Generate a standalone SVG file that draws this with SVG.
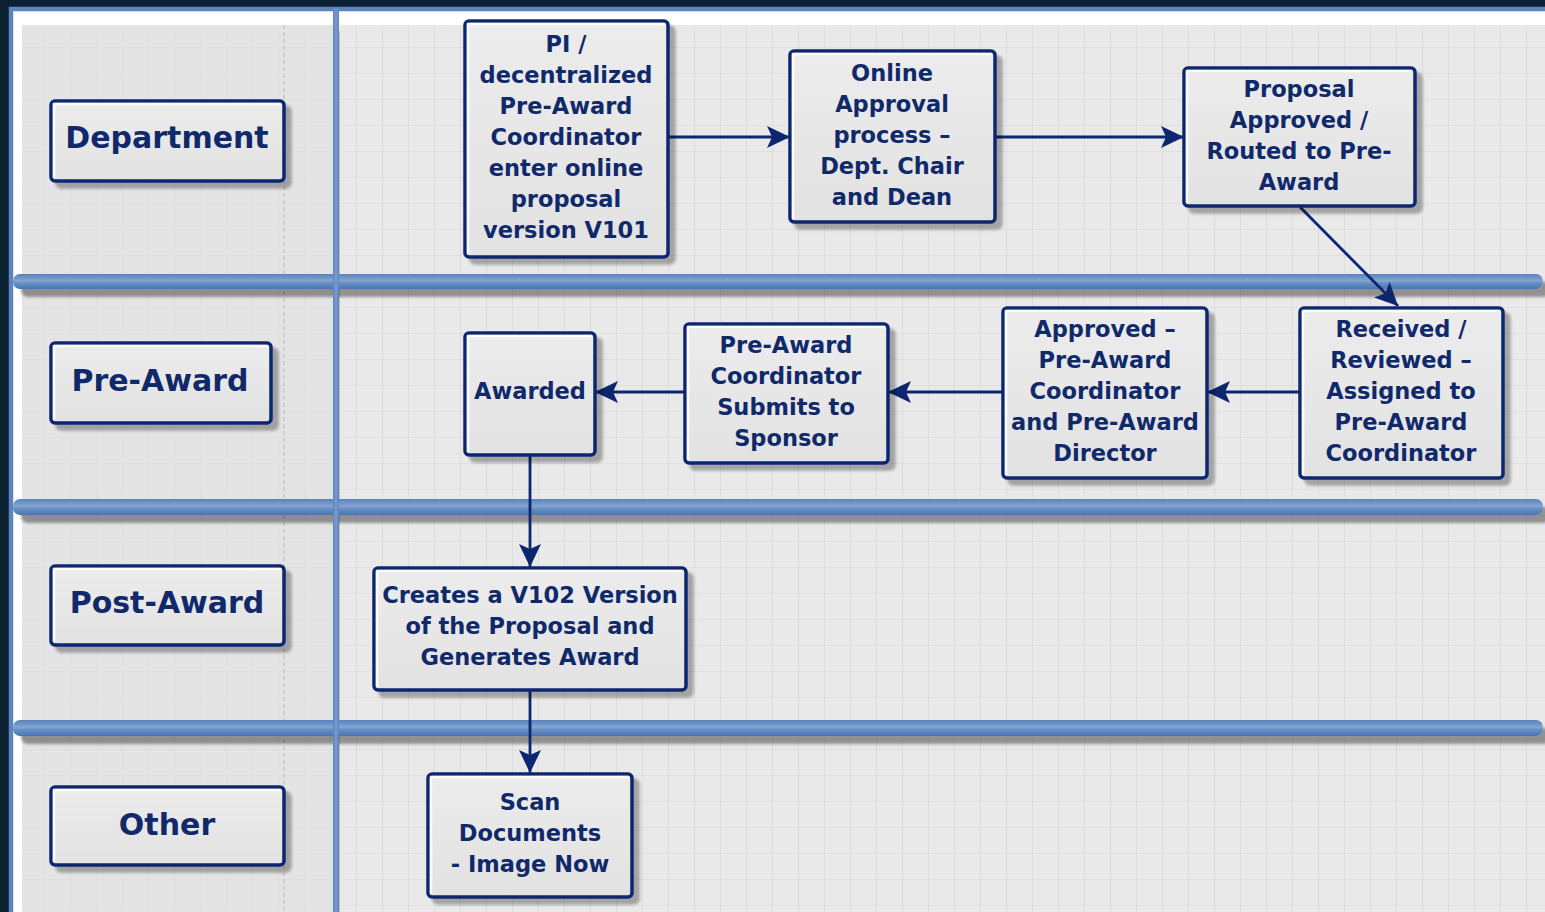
<svg xmlns="http://www.w3.org/2000/svg" width="1545" height="912" viewBox="0 0 1545 912">
<style>
.n text{font-family:"DejaVu Sans",Verdana,sans-serif;font-weight:bold;font-size:22.5px;fill:#10296b;text-anchor:middle}
.lbl text{font-family:"DejaVu Sans",Verdana,sans-serif;font-weight:bold;font-size:30px;fill:#10296b;text-anchor:middle}
.box{fill:url(#ng);stroke:#0c2770;stroke-width:3.5}
.hl{fill:none;stroke:#ffffff;stroke-width:2.5;stroke-opacity:0.85}
.c path{fill:none;stroke:#0c2770;stroke-width:2.8;marker-end:url(#ah)}
.sep{fill:url(#sg)}
</style>
<defs>
<pattern id="grid" patternUnits="userSpaceOnUse" x="18" y="21" width="26" height="26">
<path d="M0,0 H26 M0,0 V26" fill="none" stroke="#d4d6da" stroke-width="1.2"/>
</pattern>
<linearGradient id="ng" x1="0" y1="0" x2="0" y2="1">
<stop offset="0" stop-color="#ececec"/>
<stop offset="1" stop-color="#e2e2e2"/>
</linearGradient>
<linearGradient id="sg" x1="0" y1="0" x2="0" y2="1">
<stop offset="0" stop-color="#5a82bc"/>
<stop offset="0.45" stop-color="#83a5d2"/>
<stop offset="0.6" stop-color="#6890c6"/>
<stop offset="1" stop-color="#4c75b1"/>
</linearGradient>
<linearGradient id="vg" x1="0" y1="0" x2="1" y2="0">
<stop offset="0" stop-color="#5b83bd"/>
<stop offset="0.5" stop-color="#7a9dcf"/>
<stop offset="1" stop-color="#5b83bd"/>
</linearGradient>
<filter id="sh" x="-10%" y="-10%" width="130%" height="130%">
<feGaussianBlur in="SourceAlpha" stdDeviation="1.8"/>
<feOffset dx="6" dy="6"/>
<feComponentTransfer><feFuncA type="linear" slope="0.3"/></feComponentTransfer>
<feMerge><feMergeNode/><feMergeNode in="SourceGraphic"/></feMerge>
</filter>
<filter id="sh2" x="-5%" y="-60%" width="110%" height="320%">
<feGaussianBlur in="SourceAlpha" stdDeviation="1.5"/>
<feOffset dx="8" dy="8"/>
<feComponentTransfer><feFuncA type="linear" slope="0.38"/></feComponentTransfer>
<feMerge><feMergeNode/><feMergeNode in="SourceGraphic"/></feMerge>
</filter>
<marker id="ah" markerUnits="userSpaceOnUse" markerWidth="26" markerHeight="24" refX="23" refY="11" orient="auto" viewBox="0 0 26 24">
<path d="M0,0 L23,11 L0,22 L5,11 z" fill="#0c2770"/>
</marker>
</defs>

<!-- background -->
<rect x="0" y="0" width="1545" height="912" fill="#0b2131"/>
<rect x="11" y="9" width="1540" height="910" fill="#ffffff" stroke="#5b84c0" stroke-width="4.5"/>
<!-- panels -->
<g id="panels">
<rect x="22" y="25" width="313" height="890" fill="#e4e4e4" filter="url(#sh)"/>
<rect x="340" y="25" width="1210" height="890" fill="#e9e9e9"/>
<rect x="22" y="25" width="313" height="890" fill="url(#grid)" opacity="0.55"/>
<rect x="340" y="25" width="1210" height="890" fill="url(#grid)"/>
<line x1="284" y1="25" x2="284" y2="912" stroke="#b8b8b8" stroke-width="1" stroke-dasharray="4,3"/>
</g>
<!-- lane separators -->
<g id="separators">
<rect class="sep" x="13" y="274" width="1530" height="15" rx="7" filter="url(#sh2)"/>
<rect class="sep" x="13" y="499" width="1530" height="16" rx="7" filter="url(#sh2)"/>
<rect class="sep" x="13" y="720" width="1530" height="16" rx="7" filter="url(#sh2)"/>
<rect x="333" y="9" width="6" height="905" fill="url(#vg)" filter="url(#sh2)"/>
</g>

<!-- lane labels -->
<g id="lane-department" class="lbl">
<rect class="box" x="51" y="101" width="233" height="80" rx="4" filter="url(#sh)"/>
<path class="hl" d="M54,178 V104 H281"/>
<text x="167" y="148">Department</text>
</g>
<g id="lane-preaward" class="lbl">
<rect class="box" x="51" y="343" width="220" height="80" rx="4" filter="url(#sh)"/>
<path class="hl" d="M54,420 V346 H268"/>
<text x="160" y="391">Pre-Award</text>
</g>
<g id="lane-postaward" class="lbl">
<rect class="box" x="51" y="566" width="233" height="79" rx="4" filter="url(#sh)"/>
<path class="hl" d="M54,642 V569 H281"/>
<text x="167" y="613">Post-Award</text>
</g>
<g id="lane-other" class="lbl">
<rect class="box" x="51" y="787" width="233" height="78" rx="4" filter="url(#sh)"/>
<path class="hl" d="M54,862 V790 H281"/>
<text x="167" y="835">Other</text>
</g>

<!-- connectors -->
<g id="connectors" class="c">
<path d="M668,137 H790"/>
<path d="M995,137 H1184"/>
<path d="M1300,207 L1398,306"/>
<path d="M1300,392 H1207"/>
<path d="M1003,392 H888"/>
<path d="M685,392 H595"/>
<path d="M530,455 V567"/>
<path d="M530,690 V773"/>
</g>

<!-- nodes -->
<g id="n-pi" class="n">
<rect class="box" x="465" y="21" width="203" height="236" rx="4" filter="url(#sh)"/>
<path class="hl" d="M468,254 V24 H665"/>
<text x="566" y="52">PI /</text>
<text x="566" y="83">decentralized</text>
<text x="566" y="114">Pre-Award</text>
<text x="566" y="145">Coordinator</text>
<text x="566" y="176">enter online</text>
<text x="566" y="207">proposal</text>
<text x="566" y="238">version V101</text>
</g>
<g id="n-online" class="n">
<rect class="box" x="790" y="51" width="205" height="171" rx="4" filter="url(#sh)"/>
<path class="hl" d="M793,219 V54 H992"/>
<text x="892" y="81">Online</text>
<text x="892" y="112">Approval</text>
<text x="892" y="143">process –</text>
<text x="892" y="174">Dept. Chair</text>
<text x="892" y="205">and Dean</text>
</g>
<g id="n-proposal" class="n">
<rect class="box" x="1184" y="68" width="231" height="138" rx="4" filter="url(#sh)"/>
<path class="hl" d="M1187,203 V71 H1412"/>
<text x="1299" y="97">Proposal</text>
<text x="1299" y="128">Approved /</text>
<text x="1299" y="159">Routed to Pre-</text>
<text x="1299" y="190">Award</text>
</g>
<g id="n-received" class="n">
<rect class="box" x="1300" y="308" width="203" height="170" rx="4" filter="url(#sh)"/>
<path class="hl" d="M1303,475 V311 H1500"/>
<text x="1401" y="337">Received /</text>
<text x="1401" y="368">Reviewed –</text>
<text x="1401" y="399">Assigned to</text>
<text x="1401" y="430">Pre-Award</text>
<text x="1401" y="461">Coordinator</text>
</g>
<g id="n-approved" class="n">
<rect class="box" x="1003" y="308" width="204" height="170" rx="4" filter="url(#sh)"/>
<path class="hl" d="M1006,475 V311 H1204"/>
<text x="1105" y="337">Approved –</text>
<text x="1105" y="368">Pre-Award</text>
<text x="1105" y="399">Coordinator</text>
<text x="1105" y="430">and Pre-Award</text>
<text x="1105" y="461">Director</text>
</g>
<g id="n-submits" class="n">
<rect class="box" x="685" y="324" width="203" height="139" rx="4" filter="url(#sh)"/>
<path class="hl" d="M688,460 V327 H885"/>
<text x="786" y="353">Pre-Award</text>
<text x="786" y="384">Coordinator</text>
<text x="786" y="415">Submits to</text>
<text x="786" y="446">Sponsor</text>
</g>
<g id="n-awarded" class="n">
<rect class="box" x="465" y="333" width="130" height="122" rx="4" filter="url(#sh)"/>
<path class="hl" d="M468,452 V336 H592"/>
<text x="530" y="399">Awarded</text>
</g>
<g id="n-creates" class="n">
<rect class="box" x="374" y="568" width="312" height="122" rx="4" filter="url(#sh)"/>
<path class="hl" d="M377,687 V571 H683"/>
<text x="530" y="603">Creates a V102 Version</text>
<text x="530" y="634">of the Proposal and</text>
<text x="530" y="665">Generates Award</text>
</g>
<g id="n-scan" class="n">
<rect class="box" x="428" y="774" width="204" height="123" rx="4" filter="url(#sh)"/>
<path class="hl" d="M431,894 V777 H629"/>
<text x="530" y="810">Scan</text>
<text x="530" y="841">Documents</text>
<text x="530" y="872">- Image Now</text>
</g>
</svg>
